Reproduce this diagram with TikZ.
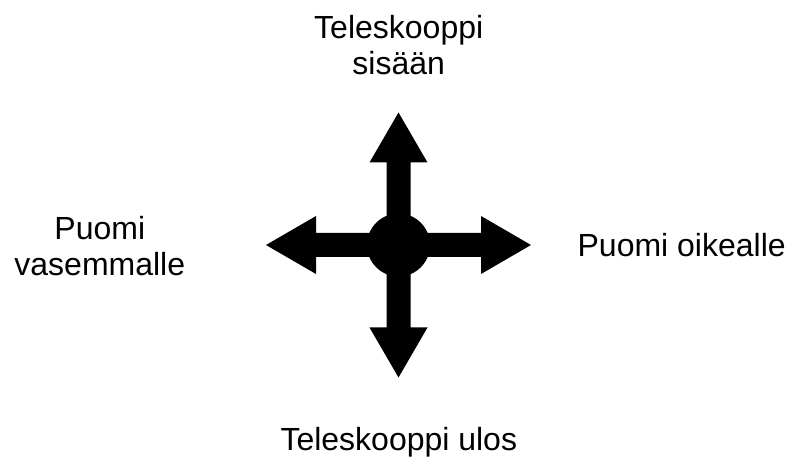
\documentclass[tikz,border=0pt]{standalone}
\usepackage{fontspec}
\setmainfont{Liberation Sans}
\begin{document}
\begin{tikzpicture}[x=1bp,y=-1bp,
  lbl/.style={font=\fontsize{32bp}{36bp}\selectfont, inner sep=0pt, align=center, anchor=base},
  armshape/.style={fill=black, draw=none}]
\useasboundingbox (0,0) rectangle (804,461);
\coordinate (c) at (398.5,245);
\foreach \r in {0,90,180,270}{
  \path[armshape, shift={(c)}, rotate=\r] (-12,0) -- (-12,-82.5) -- (-29,-82.5) -- (0,-132.5) -- (29,-82.5) -- (12,-82.5) -- (12,0) -- cycle;
}
\node[circle, fill=black, minimum size=63bp, inner sep=0pt] (hub) at (c) {};
\node[lbl] (top) at (398.7,74.3) {Teleskooppi\\sisään};
\node[lbl] (left) at (99.8,276) {Puomi\\vasemmalle};
\node[lbl] (right) at (681.7,256.7) {Puomi oikealle};
\node[lbl] (bottom) at (398.8,450.7) {Teleskooppi ulos};
\end{tikzpicture}
\end{document}
